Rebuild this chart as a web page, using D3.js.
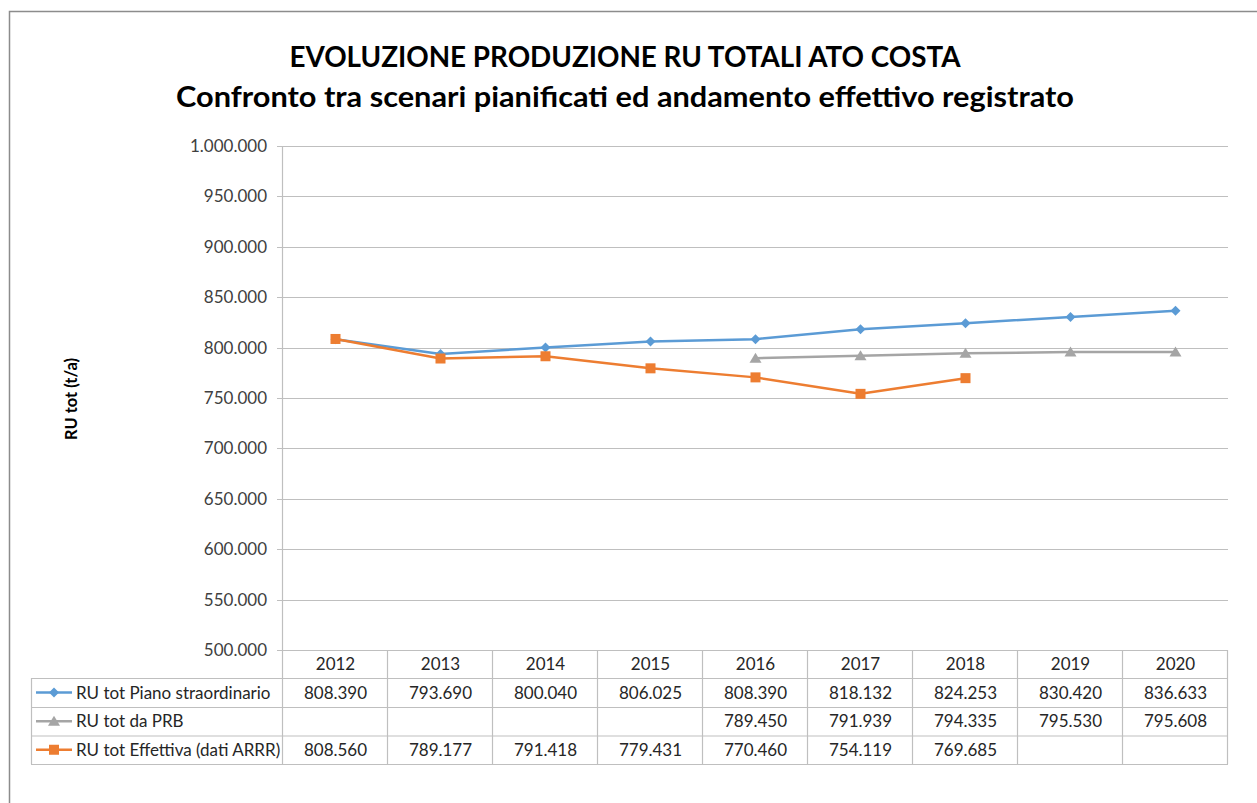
<!DOCTYPE html>
<html><head><meta charset="utf-8">
<script src="https://cdn.jsdelivr.net/npm/d3@7/dist/d3.min.js"></script>
<style>body{margin:0;background:#fff}svg{display:block}</style>
</head><body>
<svg id="c" width="1257" height="803"></svg>
<script>
const years = ["2012","2013","2014","2015","2016","2017","2018","2019","2020"];
const seriesNames = ["RU tot Piano straordinario","RU tot da PRB","RU tot Effettiva (dati ARRR)"];
const pianoValues = [808390,793690,800040,806025,808390,818132,824253,830420,836633];
const prbValues = [null,null,null,null,789450,791939,794335,795530,795608];
const effettivaValues = [808560,789177,791418,779431,770460,754119,769685,null,null];
const yTicks = [500000,550000,600000,650000,700000,750000,800000,850000,900000,950000,1000000];
const titleLines = ["EVOLUZIONE PRODUZIONE RU TOTALI ATO COSTA","Confronto tra scenari pianificati ed andamento effettivo registrato"];
const yTitle = "RU tot (t/a)";

const series = [
  {name: seriesNames[0], values: pianoValues, color: "#5B9BD5", marker: "diamond"},
  {name: seriesNames[1], values: prbValues, color: "#A5A5A5", marker: "triangle"},
  {name: seriesNames[2], values: effettivaValues, color: "#ED7D31", marker: "square"}
];

const loc = d3.formatLocale({decimal: ",", thousands: ".", grouping: [3], currency: ["", "€"]});
const fmt = loc.format(",d");
const FONT = "Lato, 'Open Sans', sans-serif";
const FS = 17;

const svg = d3.select("#c");
svg.append("rect").attr("x",9.5).attr("y",11.5).attr("width",1260).attr("height",900)
  .attr("fill","#fff").attr("stroke","#8c8c8c").attr("stroke-width",1.5);

const L = 283, R = 1228, T = 146, B = 650;
const x = d3.scaleBand().domain(years).range([L, R]);
const y = d3.scaleLinear().domain([500000, 1000000]).range([B, T]);

// title
const titleW = [671, 898];
svg.append("g").selectAll("text").data(titleLines).join("text")
  .attr("x", 625).attr("y", (d,i) => 67 + i*40)
  .attr("text-anchor","middle").attr("font-family",FONT).attr("font-weight","bold")
  .attr("font-size", 28.5).attr("fill","#000")
  .attr("textLength",(d,i)=>titleW[i]).attr("lengthAdjust","spacingAndGlyphs").text(d=>d);

// gridlines
const g = svg.append("g");
g.selectAll("line.grid").data(yTicks).join("line")
  .attr("x1", L-6).attr("x2", R).attr("y1", d=>Math.round(y(d))+0.5).attr("y2", d=>Math.round(y(d))+0.5)
  .attr("stroke","#bfbfbf").attr("stroke-width",1.2);
g.selectAll("text.yl").data(yTicks).join("text")
  .attr("x", L-16).attr("y", d=>y(d)+6).attr("text-anchor","end")
  .attr("font-family",FONT).attr("font-size",FS).attr("fill","#404040").text(d=>fmt(d));
g.append("line").attr("x1",L-0.5).attr("x2",L-0.5).attr("y1",T).attr("y2",B)
  .attr("stroke","#bfbfbf").attr("stroke-width",1.2);

// y title
svg.append("text").attr("transform",`translate(77,${399}) rotate(-90)`)
  .attr("text-anchor","middle").attr("font-family",FONT).attr("font-weight","bold")
  .attr("font-size",17).attr("fill","#000")
  .attr("textLength",82).attr("lengthAdjust","spacingAndGlyphs").text(yTitle);

// data table
const rowH = [650, 678, 707, 735.5, 764];
const TL = 31;
const tg = svg.append("g").attr("stroke","#bfbfbf").attr("stroke-width",1.2);
const colEdges = years.map(d=>x(d)).concat([R]);
colEdges.forEach(cx=>{
  tg.append("line").attr("x1",cx-0.5).attr("x2",cx-0.5).attr("y1",B).attr("y2",rowH[4]);
});
tg.append("line").attr("x1",TL+0.5).attr("x2",TL+0.5).attr("y1",rowH[1]).attr("y2",rowH[4]);
[1,2,3,4].forEach(i=>{
  tg.append("line").attr("x1",TL).attr("x2",R).attr("y1",rowH[i]+0.5).attr("y2",rowH[i]+0.5);
});
svg.append("g").selectAll("text").data(years).join("text")
  .attr("x", d=>x(d)+x.bandwidth()/2).attr("y", (rowH[0]+rowH[1])/2+6)
  .attr("text-anchor","middle").attr("font-family",FONT).attr("font-size",FS).attr("fill","#262626").text(d=>d);

function drawMarker(sel, type, color) {
  if (type==="diamond") {
    sel.append("path").attr("d","M0,-5L5,0L0,5L-5,0Z").attr("fill",color);
  } else if (type==="triangle") {
    sel.append("path").attr("d","M0,-5.5L6,4.5L-6,4.5Z").attr("fill",color);
  } else {
    sel.append("rect").attr("x",-5).attr("y",-5).attr("width",10).attr("height",10).attr("fill",color);
  }
}

series.forEach((s,si)=>{
  const ry = (rowH[si+1]+rowH[si+2])/2;
  svg.append("line").attr("x1",36).attr("x2",72).attr("y1",ry).attr("y2",ry)
    .attr("stroke",s.color).attr("stroke-width",2.5);
  drawMarker(svg.append("g").attr("transform",`translate(54,${ry})`), s.marker, s.color);
  svg.append("text").attr("x",76).attr("y",ry+6).attr("font-family",FONT).attr("font-size",FS)
    .attr("fill","#262626").text(s.name);
  svg.append("g").selectAll("text").data(years.map((yr,i)=>({yr, v:s.values[i]})).filter(d=>d.v!=null)).join("text")
    .attr("x", d=>x(d.yr)+x.bandwidth()/2).attr("y", ry+6).attr("text-anchor","middle")
    .attr("font-family",FONT).attr("font-size",FS).attr("fill","#262626").text(d=>fmt(d.v));

  const pts = years.map((yr,i)=>({yr, v:s.values[i]}));
  const line = d3.line().defined(d=>d.v!=null).x(d=>x(d.yr)+x.bandwidth()/2).y(d=>y(d.v));
  svg.append("path").datum(pts).attr("d",line).attr("fill","none").attr("stroke",s.color)
    .attr("stroke-width",2.5).attr("stroke-linejoin","round");
  pts.filter(d=>d.v!=null).forEach(d=>{
    drawMarker(svg.append("g").attr("transform",`translate(${x(d.yr)+x.bandwidth()/2},${y(d.v)})`), s.marker, s.color);
  });
});
</script>
</body></html>
